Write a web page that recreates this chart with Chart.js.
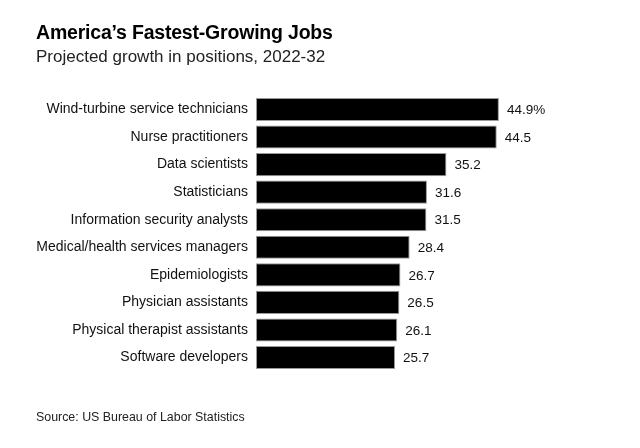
<!DOCTYPE html>
<html>
<head>
<meta charset="utf-8">
<script src="https://cdn.jsdelivr.net/npm/chart.js@4"></script>
<style>
  html, body { margin: 0; padding: 0; background: #fff; }
  #wrap { position: relative; width: 640px; height: 448px; font-family: "Liberation Sans", Arial, sans-serif; color: #000; }
  #titulo { position: absolute; left: 36px; top: 21px; font-size: 19.5px; font-weight: bold; letter-spacing: -0.2px; }
  #subtitulo { position: absolute; left: 36px; top: 47px; font-size: 17px; color: #222; }
  #fuente { position: absolute; left: 36px; top: 410px; font-size: 12.4px; color: #222; }
  #grafico { position: absolute; left: 0; top: 0; }
</style>
</head>
<body>
<div id="wrap">
  <canvas id="grafico" width="640" height="448"></canvas>
  <div id="titulo">America’s Fastest-Growing Jobs</div>
  <div id="subtitulo">Projected growth in positions, 2022-32</div>
  <div id="fuente">Source: US Bureau of Labor Statistics</div>
</div>
<script>
// === Datos ===
const empleos = [
  "Wind-turbine service technicians",
  "Nurse practitioners",
  "Data scientists",
  "Statisticians",
  "Information security analysts",
  "Medical/health services managers",
  "Epidemiologists",
  "Physician assistants",
  "Physical therapist assistants",
  "Software developers"
];
const crecimiento = [44.9, 44.5, 35.2, 31.6, 31.5, 28.4, 26.7, 26.5, 26.1, 25.7];
const etiquetasValor = ["44.9%", "44.5", "35.2", "31.6", "31.5", "28.4", "26.7", "26.5", "26.1", "25.7"];

// === Etiquetas al final de cada barra ===
const etiquetasPlugin = {
  id: "etiquetas",
  afterDatasetsDraw(chart) {
    const ctx = chart.ctx;
    const meta = chart.getDatasetMeta(0);
    ctx.save();
    ctx.font = "13.5px 'Liberation Sans', Arial, sans-serif";
    ctx.fillStyle = "#111";
    ctx.textAlign = "left";
    ctx.textBaseline = "middle";
    meta.data.forEach((bar, i) => {
      ctx.fillText(etiquetasValor[i], bar.x + 8, bar.y + 1);
    });
    ctx.restore();
  }
};

const ctx = document.getElementById("grafico").getContext("2d");
new Chart(ctx, {
  type: "bar",
  data: {
    labels: empleos,
    datasets: [{
      data: crecimiento,
      backgroundColor: "#000",
      borderColor: "#9a9a9a",
      borderWidth: 1,
      borderSkipped: false,
      barPercentage: 0.84,
      categoryPercentage: 1
    }]
  },
  options: {
    indexAxis: "y",
    responsive: false,
    animation: false,
    layout: {
      padding: { left: 0, right: 59.4, top: 95.7, bottom: 76.7 }
    },
    plugins: {
      legend: { display: false },
      tooltip: { enabled: false }
    },
    scales: {
      x: {
        min: 0,
        max: 60,
        display: false
      },
      y: {
        afterFit: (scale) => { scale.width = 256; },
        grid: { display: false, drawBorder: false },
        border: { display: false },
        ticks: {
          color: "#111",
          padding: 0,
          font: { family: "'Liberation Sans', Arial, sans-serif", size: 14 }
        }
      }
    }
  },
  plugins: [etiquetasPlugin]
});
</script>
</body>
</html>
